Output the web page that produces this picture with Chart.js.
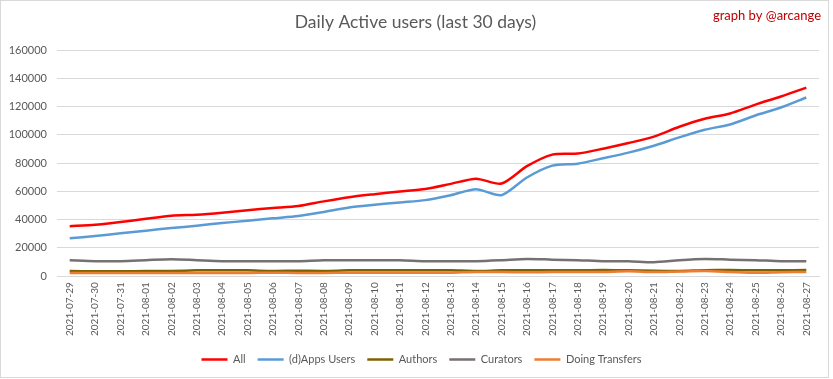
<!DOCTYPE html>
<html>
<head>
<meta charset="utf-8">
<script src="https://cdn.jsdelivr.net/npm/chart.js@4.4.0/dist/chart.umd.min.js"></script>
<style>
  body { margin: 0; background: #fff; }
  #wrap { position: relative; width: 833px; height: 379px; }
  #frame { position: absolute; left: 0; top: 0; width: 827px; height: 376px; border: 1px solid #d9d9d9; pointer-events: none; }
</style>
</head>
<body>
<div id="wrap">
  <canvas id="myChart"></canvas>
  <div id="frame"></div>
</div>
<script>
// dates on the x axis
let days = ['2021-07-29', '2021-07-30', '2021-07-31', '2021-08-01', '2021-08-02', '2021-08-03',
    '2021-08-04', '2021-08-05', '2021-08-06', '2021-08-07', '2021-08-08', '2021-08-09',
    '2021-08-10', '2021-08-11', '2021-08-12', '2021-08-13', '2021-08-14', '2021-08-15',
    '2021-08-16', '2021-08-17', '2021-08-18', '2021-08-19', '2021-08-20', '2021-08-21',
    '2021-08-22', '2021-08-23', '2021-08-24', '2021-08-25', '2021-08-26', '2021-08-27'];

// values
let allUsers = [35400, 36300, 38300, 40600, 42800, 43500, 44900, 46700, 48200, 49600,
    52900, 55900, 58000, 59900, 61700, 65300, 69000, 65500, 77800, 86000,
    86700, 90200, 94200, 98700, 105700, 111400, 115100, 121400, 127100, 133400];
let appsUsers = [26800, 28400, 30300, 32200, 34000, 35700, 37600, 39200, 40900, 42500,
    45400, 48600, 50500, 52200, 53800, 57300, 61500, 57300, 69800, 78200,
    79600, 83400, 87400, 92300, 98200, 103600, 107300, 113700, 119300, 126400];
let authors = [3600, 3500, 3500, 3600, 3700, 4100, 4200, 4100, 3700, 3800,
    3700, 4100, 4200, 4200, 4200, 4200, 3600, 4100, 4100, 4200,
    4200, 4300, 4200, 3800, 3700, 4200, 4300, 4200, 4200, 4300];
let curators = [11300, 10600, 10600, 11300, 12000, 11300, 10600, 10600, 10600, 10600,
    11300, 11300, 11300, 11300, 10600, 10600, 10600, 11300, 12200, 11700,
    11300, 10600, 10600, 9900, 11300, 12200, 11700, 11300, 10600, 10600];
let transfers = [2200, 2300, 2300, 2300, 2300, 2300, 2300, 2300, 2400, 2300,
    2300, 2400, 2500, 2500, 2500, 2500, 3000, 2900, 2800, 2900,
    2900, 3000, 3400, 2900, 3300, 3600, 3000, 2400, 2800, 3000];
let yTicks = [0, 20000, 40000, 60000, 80000, 100000, 120000, 140000, 160000];

let txtColor = '#595959';
let fontName = 'Lato';

function makeLine(label, data, color, order) {
    return {
        label: label,
        data: data,
        borderColor: color,
        backgroundColor: color,
        borderWidth: 2.5,
        pointRadius: 0,
        pointStyle: 'line',
        tension: 0.25,
        fill: false,
        order: order
    };
}

// credit in the top right corner, and nudge title/legend to sit like the original
let creditPlugin = {
    id: 'credit',
    afterLayout(chart) {
        chart.legend.left += 12;
        chart.legend.right += 12;
        chart.titleBlock.left += 6;
        chart.titleBlock.right += 6;
    },
    afterDraw(chart) {
        let c = chart.ctx;
        c.save();
        c.font = '13px ' + fontName;
        c.fillStyle = '#c00000';
        c.textAlign = 'right';
        c.textBaseline = 'middle';
        c.fillText('graph by @arcange', 821, 16);
        c.restore();
    }
};

let ctx = document.getElementById('myChart').getContext('2d');
let myChart = new Chart(ctx, {
    type: 'line',
    data: {
        labels: days,
        datasets: [
            makeLine('All', allUsers, '#ff0000', 5),
            makeLine('(d)Apps Users', appsUsers, '#5b9bd5', 4),
            makeLine('Authors', authors, '#7f6000', 3),
            makeLine('Curators', curators, '#767171', 2),
            makeLine('Doing Transfers', transfers, '#ed7d31', 1)
        ]
    },
    options: {
        responsive: true,
        maintainAspectRatio: false,
        animation: false,
        layout: { padding: { left: 0, right: 14, top: 0, bottom: 4 } },
        plugins: {
            title: {
                display: true,
                text: 'Daily Active users (last 30 days)',
                color: txtColor,
                font: { family: fontName, size: 17.5, weight: 'normal' },
                padding: { top: 12, bottom: 17 }
            },
            legend: {
                position: 'bottom',
                labels: {
                    color: txtColor,
                    font: { family: fontName, size: 11 },
                    usePointStyle: true,
                    pointStyle: 'line',
                    pointStyleWidth: 26,
                    boxHeight: 11,
                    padding: 12,
                    sort: (a, b) => a.datasetIndex - b.datasetIndex
                }
            },
            tooltip: { enabled: false }
        },
        scales: {
            x: {
                offset: true,
                grid: { display: false, drawTicks: false },
                border: { color: '#d9d9d9' },
                ticks: {
                    color: txtColor,
                    font: { family: fontName, size: 10 },
                    minRotation: 90,
                    maxRotation: 90,
                    autoSkip: false,
                    padding: 6
                }
            },
            y: {
                min: 0,
                max: 160000,
                afterBuildTicks(scale) {
                    scale.ticks = yTicks.map(v => ({ value: v }));
                },
                afterFit(scale) {
                    scale.width = 57;
                },
                grid: { color: '#d9d9d9', drawTicks: false },
                border: { display: false },
                ticks: {
                    color: txtColor,
                    font: { family: fontName, size: 11 },
                    padding: 10,
                    callback: v => String(v)
                }
            }
        }
    },
    plugins: [creditPlugin]
});
</script>
</body>
</html>
